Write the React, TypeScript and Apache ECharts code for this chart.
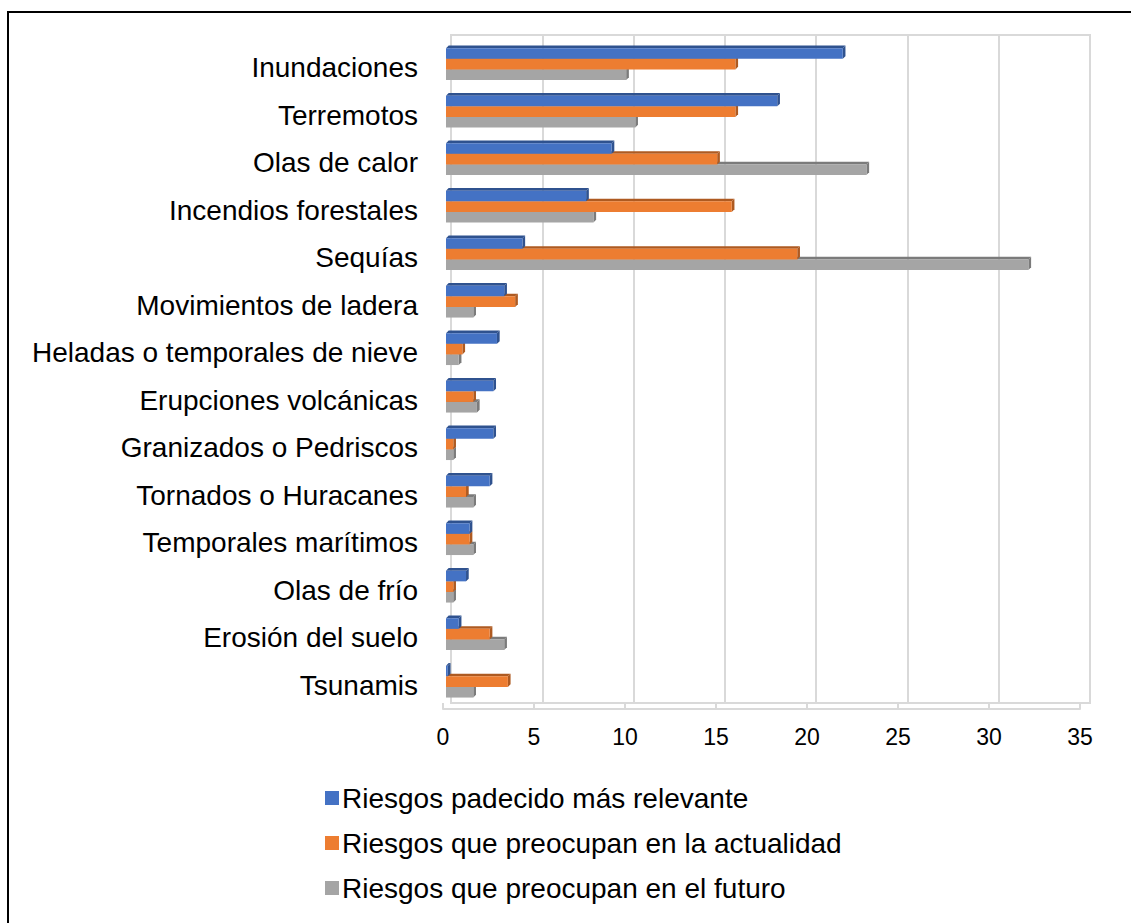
import React, { useEffect, useRef } from "react";
import * as echarts from "echarts";

const categories = [
  "Inundaciones",
  "Terremotos",
  "Olas de calor",
  "Incendios forestales",
  "Sequías",
  "Movimientos de ladera",
  "Heladas o temporales de nieve",
  "Erupciones volcánicas",
  "Granizados o Pedriscos",
  "Tornados o Huracanes",
  "Temporales marítimos",
  "Olas de frío",
  "Erosión del suelo",
  "Tsunamis",
];

const padecido = [21.8, 18.2, 9.1, 7.7, 4.2, 3.2, 2.8, 2.6, 2.6, 2.4, 1.3, 1.1, 0.7, 0.1];
const actualidad = [15.9, 15.9, 14.9, 15.7, 19.3, 3.8, 0.9, 1.5, 0.4, 1.1, 1.3, 0.4, 2.4, 3.4];
const futuro = [9.9, 10.4, 23.1, 8.1, 32.0, 1.5, 0.7, 1.7, 0.4, 1.5, 1.5, 0.4, 3.2, 1.5];

const seriesNames = [
  "Riesgos padecido más relevante",
  "Riesgos que preocupan en la actualidad",
  "Riesgos que preocupan en el futuro",
];

const xTicks = [0, 5, 10, 15, 20, 25, 30, 35];

const FONT = "'Liberation Sans', Arial, sans-serif";

const palette = [
  { face: "#4472C4", top: "#2F528F", side: "#2F528F" },
  { face: "#ED7D31", top: "#AE5A21", side: "#AE5A21" },
  { face: "#A5A5A5", top: "#7B7B7B", side: "#7B7B7B" },
];

function makeRender(k: number) {
  const c = palette[k];
  return (params: any, api: any) => {
    const cat = api.value(0);
    const val = api.value(1);
    const p0 = api.coord([0, cat]);
    const p1 = api.coord([val, cat]);
    const bh = 10.6;
    const d = 2.7;
    const y0 = p0[1] - 14.5 + k * bh;
    const x0 = p0[0];
    const x1 = p1[0];
    return {
      type: "group",
      children: [
        {
          type: "polygon",
          shape: { points: [[x0, y0], [x0 + d, y0 - d], [x1 + d, y0 - d], [x1, y0]] },
          style: { fill: c.top },
        },
        {
          type: "polygon",
          shape: { points: [[x1, y0], [x1 + d, y0 - d], [x1 + d, y0 + bh - d], [x1, y0 + bh]] },
          style: { fill: c.side },
        },
        {
          type: "rect",
          shape: { x: x0, y: y0, width: Math.max(0, x1 - x0), height: bh },
          style: { fill: c.face },
        },
      ],
    };
  };
}

export default function App() {
  const ref = useRef<HTMLDivElement>(null);
  useEffect(() => {
    if (!ref.current) return;
    const chart = echarts.init(ref.current, undefined, { renderer: "svg" });
    const values = [padecido, actualidad, futuro];
    const option: any = {
      animation: false,
      backgroundColor: "#ffffff",
      textStyle: { fontFamily: FONT },
      grid: [
        // bars
        { left: 446, right: 48, top: 39, bottom: 219 },
        // back wall
        {
          left: 451,
          right: 41,
          top: 35,
          bottom: 220,
          show: true,
          borderColor: "#d9d9d9",
          borderWidth: 2,
          backgroundColor: "transparent",
        },
        // front floor edge with labels
        { left: 443, right: 51, top: 39, bottom: 214 },
        // category labels (slightly lower, as in the perspective view)
        { left: 446, right: 48, top: 44, bottom: 214 },
      ],
      xAxis: [
        { gridIndex: 0, type: "value", min: 0, max: 35, interval: 5, show: false },
        {
          gridIndex: 1,
          type: "value",
          min: 0,
          max: 35,
          interval: 5,
          axisLine: { show: false },
          axisTick: { show: false },
          axisLabel: { show: false },
          splitLine: { show: true, lineStyle: { color: "#d9d9d9", width: 2 } },
        },
        {
          gridIndex: 2,
          type: "value",
          min: 0,
          max: 35,
          interval: 5,
          data: xTicks,
          axisLine: { show: true, lineStyle: { color: "#d9d9d9", width: 2 } },
          axisTick: { show: true, inside: true, length: 6, lineStyle: { color: "#d9d9d9", width: 2 } },
          splitLine: { show: false },
          axisLabel: { color: "#000", fontSize: 23, fontFamily: FONT, margin: 16 },
        },
        { gridIndex: 3, type: "value", min: 0, max: 35, show: false },
      ],
      yAxis: [
        {
          gridIndex: 0,
          type: "category",
          inverse: true,
          data: categories,
          axisLine: { show: false },
          axisTick: { show: false },
          splitLine: { show: false },
          axisLabel: { show: false },
        },
        { gridIndex: 1, type: "value", show: false },
        { gridIndex: 2, type: "value", show: false },
        {
          gridIndex: 3,
          type: "category",
          inverse: true,
          data: categories,
          axisLine: { show: false },
          axisTick: { show: false },
          splitLine: { show: false },
          axisLabel: {
            color: "#000",
            fontSize: 28,
            fontFamily: FONT,
            margin: 28,
          },
        },
      ],
      legend: {
        orient: "vertical",
        left: 320,
        top: 779,
        itemWidth: 14,
        itemHeight: 14,
        itemGap: 17,
        icon: "rect",
        textStyle: { color: "#000", fontSize: 28, fontFamily: FONT, padding: [0, 0, 0, -2] },
        data: seriesNames,
      },
      graphic: [
        {
          type: "rect",
          shape: { x: 8, y: 12, width: 1200, height: 1000 },
          style: { fill: "none", stroke: "#000", lineWidth: 2 },
          silent: true,
          z: 100,
        },
      ],
      series: values.map((vals, k) => ({
        type: "custom",
        name: seriesNames[k],
        xAxisIndex: 0,
        yAxisIndex: 0,
        z: 10 - k,
        itemStyle: { color: palette[k].face },
        encode: { x: 1, y: 0 },
        renderItem: makeRender(k),
        data: vals.map((v, i) => [i, v]),
      })),
    };
    chart.setOption(option);
    return () => chart.dispose();
  }, []);
  return (
    <div
      ref={ref}
      style={{ position: "absolute", left: 0, top: 0, width: 1131, height: 923 }}
    />
  );
}
